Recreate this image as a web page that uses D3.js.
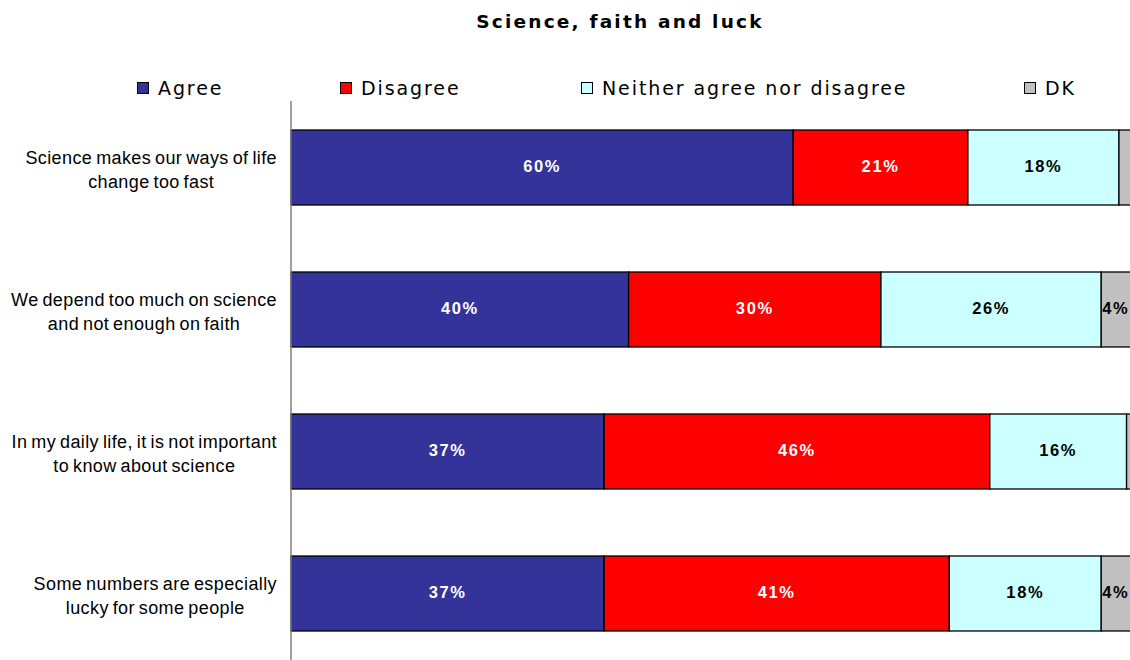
<!DOCTYPE html>
<html>
<head>
<meta charset="utf-8">
<script src="https://cdn.jsdelivr.net/npm/d3@7"></script>
<style>
  body { margin: 0; background: #fff; }
  svg { display: block; }
</style>
</head>
<body>
<svg id="chart" width="1130" height="660"></svg>
<script>
// ---- data ----
const title = "Science, faith and luck";
const categories = [
  "Science makes our ways of life change too fast",
  "We depend too much on science and not enough on faith",
  "In my daily life, it is not important to know about science",
  "Some numbers are especially lucky for some people"
];
const categoryLines = [
  ["Science makes our ways of life", "change too fast"],
  ["We depend too much on science", "and not enough on faith"],
  ["In my daily life, it is not important", "to know about science"],
  ["Some numbers are especially", "lucky for some people"]
];
const seriesNames = ["Agree", "Disagree", "Neither agree nor disagree", "DK"];
const agree    = [59.5, 40.0, 37.1, 37.1];
const disagree = [20.7, 29.9, 45.7, 40.9];
const neither  = [17.9, 26.1, 16.2, 18.0];
const dk       = [1.9, 4.0, 1.0, 4.0];

// ---- styles ----
const colors = ["#333399", "#FF0000", "#CCFFFF", "#C0C0C0"];
const labelColors = ["#ffffff", "#ffffff", "#000000", "#000000"];
const legendX = [137, 340, 581, 1024];
const W = 1130;

const svg = d3.select("#chart");
const rows = categories.map((c, i) => ({
  cat: c, lines: categoryLines[i],
  Agree: agree[i], Disagree: disagree[i],
  "Neither agree nor disagree": neither[i], DK: dk[i]
}));

const x = d3.scaleLinear().domain([0, 100]).range([291, 1135]);
const y = d3.scaleBand().domain(categories).range([96.5, 664.5])
  .paddingInner(0.472).paddingOuter(0.236);

const stack = d3.stack().keys(seriesNames)(rows);

// title
svg.append("text")
  .attr("x", 620).attr("y", 28)
  .attr("text-anchor", "middle")
  .style("font-family", "'DejaVu Sans', Verdana, sans-serif")
  .style("font-weight", "bold")
  .style("font-size", "18.5px")
  .style("letter-spacing", "2.2px")
  .text(title);

// legend
const leg = svg.append("g");
seriesNames.forEach((s, i) => {
  const g = leg.append("g").attr("transform", `translate(${legendX[i]},0)`);
  g.append("rect").attr("x", 0.5).attr("y", 82.5).attr("width", 11).attr("height", 11)
    .attr("fill", colors[i]).attr("stroke", "#000").attr("stroke-width", 1);
  g.append("text").attr("x", 21).attr("y", 95)
    .style("font-family", "'DejaVu Sans', Verdana, sans-serif")
    .style("font-size", "19px")
    .style("letter-spacing", "1.9px")
    .attr("fill", "#000")
    .text(s);
});

// bars
const layers = svg.append("g").selectAll("g").data(stack).join("g")
  .attr("fill", (d, i) => colors[i]);
layers.selectAll("rect").data(d => d).join("rect")
  .attr("x", d => x(d[0]))
  .attr("y", d => y(d.data.cat))
  .attr("width", d => x(d[1]) - x(d[0]))
  .attr("height", y.bandwidth())
  .attr("stroke", "#000")
  .attr("stroke-width", 1.3);

// value labels
stack.forEach((layer, li) => {
  svg.append("g").selectAll("text")
    .data(layer.filter(d => x(d[1]) - x(d[0]) >= 20))
    .join("text")
    .attr("x", d => (x(d[0]) + x(d[1])) / 2)
    .attr("y", d => y(d.data.cat) + y.bandwidth() / 2 - 1.5)
    .attr("dy", "0.36em")
    .attr("text-anchor", "middle")
    .attr("fill", labelColors[li])
    .style("font-family", "'Liberation Sans', Arial, sans-serif")
    .style("font-weight", "bold")
    .style("font-size", "16.5px")
    .style("letter-spacing", "1.6px")
    .text(d => Math.round(d[1] - d[0]) + "%")
    .each(function(d) {
      // keep labels inside the visible area (right edge of picture)
      const w = this.getComputedTextLength();
      const cx = (x(d[0]) + x(d[1])) / 2;
      const maxCx = W - 1 - w / 2;
      if (cx > maxCx) d3.select(this).attr("x", Math.max(x(d[0]) + 1 + w / 2, maxCx));
    });
});

// axis line (category axis, no ticks)
const yAxis = d3.axisLeft(y).tickSize(0).tickFormat("");
const ax = svg.append("g").attr("transform", "translate(291,0)").call(yAxis);
ax.select(".domain").attr("stroke", "#808080").attr("stroke-width", 1.5)
  .attr("d", "M0,101V660");

// category labels
rows.forEach(r => {
  const g = svg.append("g");
  const cy = y(r.cat) + y.bandwidth() / 2 + 2;
  const texts = r.lines.map((ln, j) => g.append("text")
    .attr("y", cy + (j - (r.lines.length - 1) / 2) * 24.5)
    .attr("dy", "0.36em")
    .attr("text-anchor", "middle")
    .attr("fill", "#000")
    .style("font-family", "'Liberation Sans', Arial, sans-serif")
    .style("font-size", "18px")
    .style("letter-spacing", "0.4px")
    .style("word-spacing", "-1.5px")
    .text(ln));
  const maxW = d3.max(texts, t => t.node().getComputedTextLength());
  texts.forEach(t => t.attr("x", 277 - maxW / 2));
});
</script>
</body>
</html>
